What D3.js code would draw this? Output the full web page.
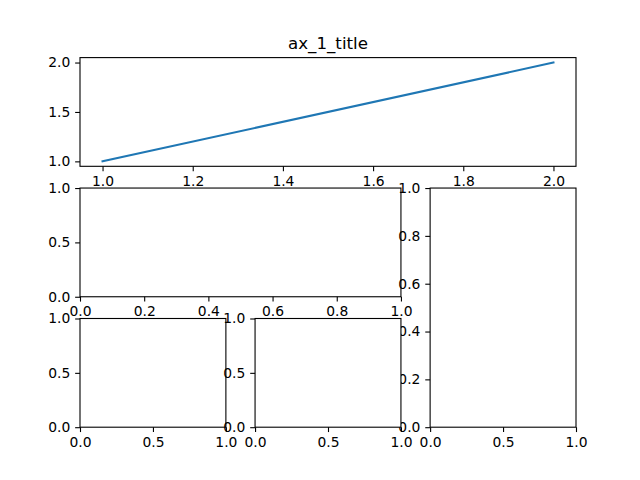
<!DOCTYPE html>
<html><head><meta charset="utf-8">
<script src="https://cdn.jsdelivr.net/npm/d3@7"></script>
<style>body{margin:0;background:#fff}svg{display:block}</style>
</head><body>
<script>
const lineX = [1, 2];
const lineY = [1, 2];
const ax1XTicks = [1.0, 1.2, 1.4, 1.6, 1.8, 2.0];
const ax1YTicks = [1.0, 1.5, 2.0];
const ax2XTicks = [0.0, 0.2, 0.4, 0.6, 0.8, 1.0];
const ax3YTicks = [0.0, 0.2, 0.4, 0.6, 0.8, 1.0];
const halfTicks = [0.0, 0.5, 1.0];
const title1 = "ax_1_title";

const W = 640, H = 480;
const svg = d3.select("body").append("svg").attr("width", W).attr("height", H)
  .style("font-family", "'DejaVu Sans', sans-serif");
svg.append("rect").attr("width", W).attr("height", H).attr("fill", "#fff");

const L = 80, R = 576, T = 57.6, B = 427.2;
const cw = (R - L) / 3.4, cg = cw * 0.2;
const rh = (B - T) / 3.4, rg = rh * 0.2;
const colX = i => L + i * (cw + cg);
const rowY = i => T + i * (rh + rg);

function box(c0, c1, r0, r1) {
  return {x0: colX(c0), x1: colX(c1) + cw, y0: rowY(r0), y1: rowY(r1) + rh};
}

const fmt = d3.format(".1f");
const fs = 13.89, tl = 4.86;

function makeAxes(b, xd, yd, xt, yt) {
  const g = svg.append("g");
  g.append("rect").attr("x", b.x0).attr("y", b.y0).attr("width", b.x1 - b.x0).attr("height", b.y1 - b.y0)
    .attr("fill", "#fff");
  const x = d3.scaleLinear().domain(xd).range([b.x0, b.x1]);
  const y = d3.scaleLinear().domain(yd).range([b.y1, b.y0]);
  const content = g.append("g");
  const gx = g.append("g").attr("transform", `translate(0,${b.y1})`)
    .call(d3.axisBottom(x).tickValues(xt).tickFormat(fmt).tickSize(tl).tickPadding(tl));
  const gy = g.append("g").attr("transform", `translate(${b.x0},0)`)
    .call(d3.axisLeft(y).tickValues(yt).tickFormat(fmt).tickSize(tl).tickPadding(tl));
  [gx, gy].forEach(a => {
    a.select(".domain").remove();
    a.attr("font-size", fs).attr("font-family", "'DejaVu Sans', sans-serif");
    a.selectAll("line").attr("stroke", "#000").attr("stroke-width", 1.1);
    a.selectAll("text").attr("fill", "#000");
  });
  g.append("rect").attr("x", b.x0).attr("y", b.y0).attr("width", b.x1 - b.x0).attr("height", b.y1 - b.y0)
    .attr("fill", "none").attr("stroke", "#000").attr("stroke-width", 1.1);
  return {g, x, y, content};
}

// ax1
const b1 = box(0, 2, 0, 0);
const a1 = makeAxes(b1, [0.95, 2.05], [0.95, 2.05], ax1XTicks, ax1YTicks);
a1.content.append("path")
  .datum(lineX.map((v, i) => [v, lineY[i]]))
  .attr("d", d3.line().x(d => a1.x(d[0])).y(d => a1.y(d[1])))
  .attr("fill", "none").attr("stroke", "#1f77b4").attr("stroke-width", 2.08).attr("stroke-linecap", "square");
a1.g.append("text").attr("x", (b1.x0 + b1.x1) / 2).attr("y", b1.y0 - 8.33)
  .attr("text-anchor", "middle").attr("font-size", 16.67).attr("fill", "#000").text(title1);

// ax2
makeAxes(box(0, 1, 1, 1), [0, 1], [0, 1], ax2XTicks, halfTicks);
// ax3
makeAxes(box(2, 2, 1, 2), [0, 1], [0, 1], halfTicks, ax3YTicks);
// ax4
makeAxes(box(0, 0, 2, 2), [0, 1], [0, 1], halfTicks, halfTicks);
// ax5
makeAxes(box(1, 1, 2, 2), [0, 1], [0, 1], halfTicks, halfTicks);
</script>
</body></html>
